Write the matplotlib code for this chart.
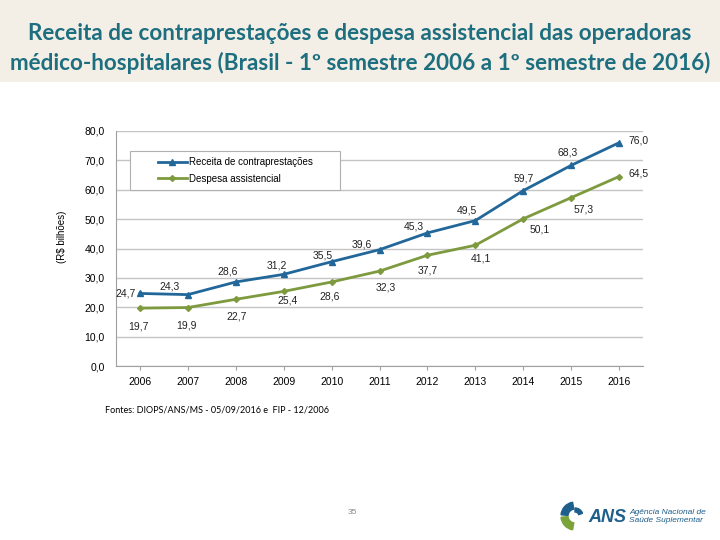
import matplotlib
matplotlib.use("Agg")
import matplotlib.pyplot as plt
from matplotlib.patches import Rectangle, Wedge

anos = [2006, 2007, 2008, 2009, 2010, 2011, 2012, 2013, 2014, 2015, 2016]
receita = [24.7, 24.3, 28.6, 31.2, 35.5, 39.6, 45.3, 49.5, 59.7, 68.3, 76.0]
despesa = [19.7, 19.9, 22.7, 25.4, 28.6, 32.3, 37.7, 41.1, 50.1, 57.3, 64.5]
yticks = [0, 10, 20, 30, 40, 50, 60, 70, 80]

# label offsets in pixels (dx, dy)
off_rec = [(-4, 0), (-18, 8), (-8, 10), (-7, 9), (-9, 6), (-18, 5),
           (-14, 6), (-8, 10), (0, 12), (-4, 13), (9, 2)]
off_des = [(-2, -18), (-1, -18), (1, -17), (4, -9), (-2, -15), (6, -16),
           (0, -15), (6, -13), (16, -11), (13, -12), (9, 3)]

azul = "#22679a"
verde = "#7e9a3f"
titcor = "#1d6f80"

def fmt(v):
    return f"{v:.1f}".replace(".", ",")

fig = plt.figure(figsize=(7.2, 5.4), dpi=100)
fig.patch.set_facecolor("white")
fig.patches.append(Rectangle((0, 1 - 82 / 540), 1, 82 / 540, transform=fig.transFigure,
                             facecolor="#f4efe6", edgecolor="none", zorder=0))
fig.text(0.5, 1 - 34 / 540, "Receita de contraprestações e despesa assistencial das operadoras",
         ha="center", va="center", fontsize=16.2, color=titcor, family="Lato", fontweight="bold")
fig.text(0.5, 1 - 63 / 540, "médico-hospitalares (Brasil - 1º semestre 2006 a 1º semestre de 2016)",
         ha="center", va="center", fontsize=16.2, color=titcor, family="Lato", fontweight="bold")

ax = fig.add_axes([116 / 720, 1 - 366 / 540, 527 / 720, 235 / 540])
ax.set_xlim(2005.5, 2016.5)
ax.set_ylim(0, 80)
ax.set_yticks(yticks)
ax.set_yticklabels([fmt(v) for v in yticks])
ax.set_xticks(anos)
ax.set_xticklabels([str(a) for a in anos])
ax.grid(axis="y", color="#c4c4c4", lw=1)
ax.set_axisbelow(True)
for s in ["top", "right"]:
    ax.spines[s].set_visible(False)
ax.spines["left"].set_color("#a0a0a0")
ax.spines["bottom"].set_color("#a0a0a0")
ax.tick_params(axis="y", length=0, labelsize=7.5, pad=8)
ax.tick_params(axis="x", length=3, color="#a0a0a0", labelsize=7.5, pad=5)
for t in ax.get_xticklabels() + ax.get_yticklabels():
    t.set_family("Liberation Sans")

ax.plot(anos, receita, color=azul, lw=2, marker="^", ms=4, zorder=3,
        label="Receita de contraprestações")
ax.plot(anos, despesa, color=verde, lw=2, marker="D", ms=3, zorder=3,
        label="Despesa assistencial")

for i, a in enumerate(anos):
    ax.annotate(fmt(receita[i]), (a, receita[i]), xytext=off_rec[i], textcoords="offset pixels",
                ha="left" if i == len(anos) - 1 else ("right" if i == 0 else "center"),
                va="center", fontsize=7.5, family="Liberation Sans", color="#222222")
    ax.annotate(fmt(despesa[i]), (a, despesa[i]), xytext=off_des[i], textcoords="offset pixels",
                ha="left" if i == len(anos) - 1 else "center",
                va="center", fontsize=7.5, family="Liberation Sans", color="#222222")

ax.add_patch(Rectangle((0.027, 0.749), 0.398, 0.166, transform=ax.transAxes,
                       facecolor="white", edgecolor="#b0b0b0", lw=0.8, zorder=2))
leg = ax.legend(loc="center", bbox_to_anchor=(0.027, 0.749, 0.398, 0.166), frameon=False,
                handlelength=3, handletextpad=0.2, labelspacing=0.7,
                prop={"family": "Liberation Sans", "size": 7})
leg.set_zorder(4)

fig.text(62 / 720, 1 - 237 / 540, "(R$ bilhões)", rotation=90, ha="center", va="center",
         fontsize=7, family="Liberation Sans")

fig.text(105 / 720, 1 - 410 / 540, "Fontes: DIOPS/ANS/MS - 05/09/2016 e  FIP - 12/2006",
         ha="left", va="center", fontsize=6.5, family="Lato")
fig.text(352 / 720, 1 - 513 / 540, "35", ha="center", va="center", fontsize=6,
         color="#888888", family="Liberation Sans")

# logo ANS
lx = fig.add_axes([555 / 720, 1 - 532 / 540, 160 / 720, 32 / 540])
lx.set_xlim(0, 160)
lx.set_ylim(0, 32)
lx.axis("off")
lx.add_patch(Wedge((20, 16), 14, 100, 175, width=7, color="#1f5f8b"))
lx.add_patch(Wedge((20, 16), 14, 185, 260, width=7, color="#7aa33a"))
lx.add_patch(Wedge((20, 16), 8, 20, 90, width=4, color="#1f5f8b"))
lx.text(33, 15, "ANS", fontsize=13, fontweight="bold", style="italic", color="#1f5f8b",
        va="center", ha="left", family="Liberation Sans")
lx.text(74, 20, "Agência Nacional de", fontsize=6, style="italic", color="#1f5f8b",
        va="center", ha="left", family="Liberation Sans")
lx.text(74, 11, "Saúde Suplementar", fontsize=6, style="italic", color="#1f5f8b",
        va="center", ha="left", family="Liberation Sans")

fig.savefig("out.png", dpi=100)
